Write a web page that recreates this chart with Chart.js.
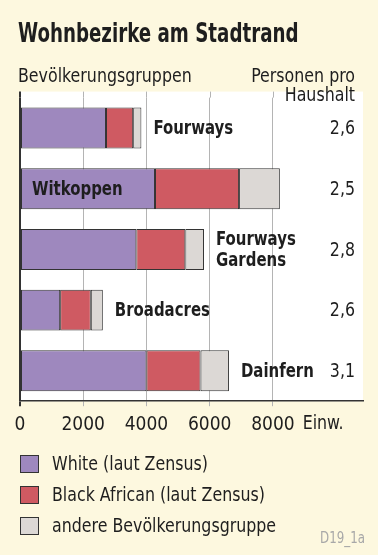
<!DOCTYPE html>
<html><head><meta charset="utf-8">
<script src="https://cdn.jsdelivr.net/npm/chart.js@4/dist/chart.umd.min.js"></script>
<style>html,body{margin:0;padding:0;background:#fdf8df;}#wrap{width:378px;height:555px;position:relative}</style>
</head><body><div id="wrap"><canvas id="c" width="378" height="555"></canvas></div>
<script>
const categories = ['Fourways', 'Witkoppen', ['Fourways', 'Gardens'], 'Broadacres', 'Dainfern'];
const whiteValues = [2720, 4270, 3680, 1270, 4000];
const blackValues = [860, 2660, 1550, 970, 1710];
const otherValues = [260, 1290, 590, 380, 900];
const personsPerHousehold = ['2,6', '2,5', '2,8', '2,6', '3,1'];
const xTicks = [0, 2000, 4000, 6000, 8000];
const seriesNames = ['White (laut Zensus)', 'Black African (laut Zensus)', 'andere Bevölkerungsgruppe'];
const titleText = 'Wohnbezirke am Stadtrand';
const leftHeader = 'Bevölkerungsgruppen';
const rightHeader = ['Personen pro', 'Haushalt'];
const unitText = 'Einw.';
const sourceText = 'D19_1a';

const FONT = '"DejaVu Sans Condensed","DejaVu Sans",sans-serif';
const COLORS = ['#9e88be', '#cf5a62', '#dcd8d5'];
const BORDER = '#333333';
const TEXT = '#1e1e1e';
const BG = '#fdf8df';
const SX_REG = 0.88, SX_BOLD = 0.83, SX_TITLE = 0.78;

function txt(ctx, s, x, y, font, align, sx, base) {
  ctx.save();
  ctx.font = font;
  ctx.textAlign = align;
  ctx.textBaseline = base || 'alphabetic';
  ctx.translate(x, y);
  ctx.scale(sx, 1);
  ctx.fillText(s, 0, 0);
  ctx.restore();
}
function tw(ctx, s, font, sx) {
  ctx.save(); ctx.font = font; const w = ctx.measureText(s).width * sx; ctx.restore(); return w;
}

const decor = {
  id: 'decor',
  beforeDraw(chart) {
    const {ctx, chartArea: a} = chart;
    ctx.save();
    ctx.fillStyle = BG;
    ctx.fillRect(0, 0, chart.width, chart.height);
    ctx.fillStyle = '#ffffff';
    ctx.fillRect(a.left, a.top - 6, a.right - a.left, a.bottom - a.top + 6);
    ctx.restore();
  },
  beforeDatasetsDraw(chart) {
    const {ctx, chartArea: a, scales: {x}} = chart;
    ctx.save();
    xTicks.forEach(v => {
      const px = Math.round(x.getPixelForValue(v)) + (v === 0 ? 0 : 0.5);
      ctx.strokeStyle = v === 0 ? '#333' : '#b4b4b4';
      ctx.lineWidth = v === 0 ? 2 : 1;
      ctx.beginPath(); ctx.moveTo(px, a.top - 6); ctx.lineTo(px, a.top); ctx.stroke();
    });
    ctx.restore();
  },
  afterDatasetsDraw(chart) {
    const {ctx, chartArea: a} = chart;
    const last = chart.getDatasetMeta(2);
    ctx.save();
    ctx.fillStyle = TEXT;
    const bold = 'bold 20px ' + FONT, reg = '20px ' + FONT;
    categories.forEach((c, i) => {
      const el = last.data[i];
      const lines = Array.isArray(c) ? c : [c];
      const w = Math.max(...lines.map(l => tw(ctx, l, bold, SX_BOLD)));
      let lx = el.x + 12;
      if (lx + w > 325) lx = a.left + 12;
      const lh = 21;
      lines.forEach((l, k) => txt(ctx, l, lx, el.y + 1 + (k - (lines.length - 1) / 2) * lh, bold, 'left', SX_BOLD, 'middle'));
      txt(ctx, personsPerHousehold[i], 355, el.y + 1, reg, 'right', SX_REG, 'middle');
    });
    ctx.restore();
  },
  afterDraw(chart) {
    const {ctx, scales: {x}} = chart;
    ctx.save();
    ctx.fillStyle = TEXT;
    const reg = '20px ' + FONT;
    txt(ctx, titleText, 18, 42, 'bold 26px ' + FONT, 'left', SX_TITLE);
    txt(ctx, leftHeader, 18, 82, reg, 'left', SX_REG);
    txt(ctx, rightHeader[0], 355, 82, reg, 'right', SX_REG);
    txt(ctx, rightHeader[1], 355, 101, reg, 'right', SX_REG);
    // unit after last tick
    const lastTick = xTicks[xTicks.length - 1];
    const w8 = tw(ctx, String(lastTick), '19px ' + FONT, 1);
    txt(ctx, unitText, x.getPixelForValue(lastTick) + w8 / 2 + 8, 429, reg, 'left', SX_REG);
    // legend
    seriesNames.forEach((n, i) => {
      const y = 455 + i * 31;
      ctx.fillStyle = COLORS[i];
      ctx.fillRect(20, y, 19, 18);
      ctx.strokeStyle = BORDER; ctx.lineWidth = 1;
      ctx.strokeRect(20.5, y + 0.5, 18, 17);
      ctx.fillStyle = TEXT;
      txt(ctx, n, 52, y + 10, reg, 'left', SX_REG, 'middle');
    });
    ctx.fillStyle = '#a8a8a8';
    txt(ctx, sourceText, 365, 543, '15px ' + FONT, 'right', SX_REG);
    ctx.restore();
  }
};

const ds = (label, data, i) => ({
  label, data, backgroundColor: COLORS[i], borderColor: BORDER, borderWidth: 1,
  borderSkipped: false, barPercentage: 0.675, categoryPercentage: 1
});

new Chart(document.getElementById('c'), {
  type: 'bar',
  data: {
    labels: categories,
    datasets: [ds(seriesNames[0], whiteValues, 0), ds(seriesNames[1], blackValues, 1), ds(seriesNames[2], otherValues, 2)]
  },
  options: {
    indexAxis: 'y',
    responsive: false,
    devicePixelRatio: 1,
    animation: false,
    layout: {padding: {left: 20, right: 15, top: 97.6, bottom: 112}},
    plugins: {legend: {display: false}, tooltip: {enabled: false}},
    scales: {
      x: {
        stacked: true, min: 0, max: 10850,
        afterBuildTicks: s => { s.ticks = xTicks.map(v => ({value: v})); },
        ticks: {font: {family: FONT, size: 19}, color: TEXT, padding: 7, maxRotation: 0, autoSkip: false,
          callback: v => String(v)},
        grid: {
          color: c => c.tick && c.tick.value === 0 ? '#333' : '#b4b4b4',
          lineWidth: c => c.tick && c.tick.value === 0 ? 2 : 1,
          tickLength: 5, drawTicks: true
        },
        border: {display: true, color: '#333', width: 1.5}
      },
      y: {stacked: true, display: false}
    }
  },
  plugins: [decor]
});
</script></body></html>
